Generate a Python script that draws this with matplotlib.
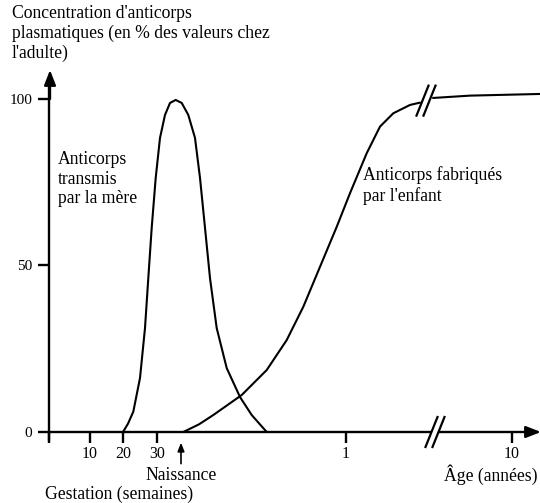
import matplotlib
matplotlib.use("Agg")
import matplotlib.pyplot as plt

plt.rcParams['font.family'] = ['Liberation Serif', 'DejaVu Serif']

# x is a position along the (broken) time axis, y is % of adult value
mother_x = [74, 79, 84.3, 91, 96, 99.3, 102.7, 106.7, 111, 116, 121, 126.7,
            132.7, 139.3, 146, 151, 156, 161, 167.7, 177.7, 191, 202.7, 217.7]
mother_y = [0, 2.5, 6.1, 16.2, 31.2, 46.2, 61.3, 76.3, 88.3, 95.2, 98.8, 99.7,
            98.8, 95.2, 88.3, 76.3, 61.3, 46.2, 31.2, 19.2, 10.5, 5.1, 0]

child_x = [134.3, 150, 164.3, 192.7, 217.7, 237.7, 254.3, 271, 287.7, 301,
           317.7, 331, 344.3, 361, 371]
child_y = [0, 2.3, 5.1, 11.1, 18.6, 27.6, 37.6, 49.6, 61.6, 71.7,
           83.7, 91.7, 95.7, 98.2, 98.9]
adult_x = [384, 421, 491]
adult_y = [100.3, 101.0, 101.5]

gest_ticks = [0, 41, 74, 108]
gest_labels = ['', '10', '20', '30']
age_ticks = [297, 463]
age_labels = ['1', '10']
birth_x = 132
y_ticks = [0, 50, 100]

W, H = 540, 503
fig = plt.figure(figsize=(W / 100, H / 100), dpi=100)
# axes: x 0 -> px 49, y 0 -> px 432, 100 -> px 99
ax = fig.add_axes([49 / W, 71 / H, 491 / W, 383 / H])
ax.set_xlim(0, 491)
ax.set_ylim(0, 115)
for s in ['top', 'right', 'bottom']:
    ax.spines[s].set_visible(False)
ax.spines['left'].set_bounds(-2.5, 106)
ax.spines['left'].set_linewidth(1.7)

lw = 1.5
for xs, ys in [(mother_x, mother_y), (child_x, child_y), (adult_x, adult_y)]:
    ax.plot(xs, ys, color='black', lw=lw, solid_joinstyle='round',
            solid_capstyle='round', clip_on=False)

# x axis in two pieces with a break
ax.plot([0, 381], [0, 0], color='black', lw=1.7, clip_on=False)
ax.plot([391, 486], [0, 0], color='black', lw=1.7, clip_on=False)
ax.annotate('', xy=(492, 0), xytext=(480, 0), annotation_clip=False,
            arrowprops=dict(arrowstyle='-|>,head_length=0.9,head_width=0.35',
                            color='black', lw=1.7, shrinkA=0, shrinkB=0))
ax.annotate('', xy=(1, 108.7), xytext=(1, 100), annotation_clip=False,
            arrowprops=dict(arrowstyle='-|>,head_length=0.9,head_width=0.35',
                            color='black', lw=1.7, shrinkA=0, shrinkB=0))


def break_marks(x, y, dx=6, dy=4.5, gap=7):
    for off in (-gap / 2, gap / 2):
        ax.plot([x + off - dx, x + off + dx], [y - dy, y + dy],
                color='black', lw=1.6, clip_on=False)


break_marks(386, 0)
break_marks(377, 99.5)

ax.set_yticks(y_ticks)
ax.set_yticklabels([str(v) for v in y_ticks])
ax.tick_params(axis='y', direction='out', length=8, width=1.7, pad=4, labelsize=11)
ax.set_xticks(gest_ticks + age_ticks)
ax.set_xticklabels(gest_labels + age_labels)
ax.tick_params(axis='x', direction='out', length=8, width=1.7, pad=2, labelsize=11.5)

# birth arrow
ax.annotate('', xy=(birth_x, -3.2), xytext=(birth_x, -9.5), annotation_clip=False,
            arrowprops=dict(arrowstyle='-|>,head_length=0.5,head_width=0.2',
                            color='black', lw=1.2, shrinkA=0, shrinkB=0))


def px(x, y):
    return x / W, 1 - y / H


fs = 12.7
fig.text(*px(12, 5), "Concentration d'anticorps\nplasmatiques (en % des valeurs chez\nl'adulte)",
         fontsize=fs, va='top', ha='left', linespacing=1.2)
fig.text(*px(58, 151), "Anticorps\ntransmis\npar la mère", fontsize=fs, va='top',
         ha='left', linespacing=1.2)
fig.text(*px(363, 166), "Anticorps fabriqués\npar l'enfant", fontsize=fs, va='top',
         ha='left', linespacing=1.2)
fig.text(*px(181, 475), "Naissance", fontsize=fs, ha='center', va='center')
fig.text(*px(45, 494), "Gestation (semaines)", fontsize=fs, ha='left', va='center')
fig.text(*px(491, 475), "Âge (années)", fontsize=fs, ha='center', va='center')

fig.savefig('out.png', dpi=100)
